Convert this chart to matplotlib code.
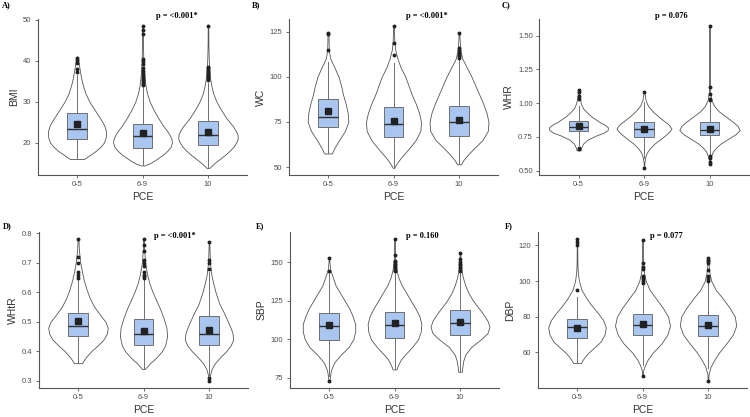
import matplotlib
matplotlib.use("Agg")
import matplotlib.pyplot as plt
import numpy as np

# ---- data ---------------------------------------------------------------
GROUPS = ["0-5", "6-9", "10"]
PANELS = ["A)", "B)", "C)", "D)", "E)", "F)"]
YLABELS = ["BMI", "WC", "WHR", "WHtR", "SBP", "DBP"]
PVALUES = ["p = <0.001*", "p = <0.001*", "p = 0.076", "p = <0.001*", "p = 0.160", "p = 0.077"]
YTICKS = [
    [20, 30, 40, 50],
    [50, 75, 100, 125],
    [0.50, 0.75, 1.00, 1.25, 1.50],
    [0.3, 0.4, 0.5, 0.6, 0.7, 0.8],
    [75, 100, 125, 150],
    [60, 80, 100, 120],
]
YTICKFMT = ["{:.0f}", "{:.0f}", "{:.2f}", "{:.1f}", "{:.0f}", "{:.0f}"]

# violin outlines: y values and half-width (density) per group
BMI_Y = [
    [16.0, 17, 18, 19, 20, 21, 22, 23, 24, 25, 26, 27, 28, 30, 32, 34, 36, 38, 40, 41],
    [14.4, 15, 16, 17, 18, 19, 20, 21, 22, 23, 24, 25, 26, 28, 30, 32, 34, 36, 38, 40, 44, 48.5],
    [13.8, 15, 16, 17, 18, 19, 20, 21, 22, 23, 24, 25, 26, 28, 30, 32, 34, 36, 38, 40, 44, 48.5],
]
BMI_D = [
    [0.11, 0.2, 0.29, 0.36, 0.41, 0.435, 0.445, 0.44, 0.42, 0.39, 0.35, 0.31, 0.27, 0.19, 0.13, 0.09, 0.06, 0.04, 0.02, 0.012],
    [0.03, 0.12, 0.22, 0.31, 0.38, 0.43, 0.45, 0.44, 0.41, 0.37, 0.32, 0.28, 0.24, 0.17, 0.11, 0.07, 0.045, 0.03, 0.02, 0.013, 0.007, 0.004],
    [0.02, 0.1, 0.18, 0.26, 0.33, 0.39, 0.43, 0.455, 0.45, 0.42, 0.38, 0.33, 0.28, 0.2, 0.13, 0.08, 0.05, 0.03, 0.02, 0.012, 0.006, 0.004],
]
WC_Y = [
    [57.5, 60, 65, 70, 75, 80, 85, 90, 95, 100, 105, 108, 110, 114, 118, 124],
    [49.5, 52, 55, 60, 65, 70, 75, 80, 85, 90, 95, 100, 105, 110, 115, 120, 128],
    [51.5, 54, 57, 60, 65, 70, 75, 80, 85, 90, 95, 100, 105, 110, 115, 120, 124],
]
WC_D = [
    [0.06, 0.09, 0.17, 0.26, 0.31, 0.3, 0.27, 0.23, 0.2, 0.16, 0.1, 0.06, 0.035, 0.015, 0.01, 0.008],
    [0.01, 0.05, 0.11, 0.23, 0.34, 0.41, 0.42, 0.39, 0.34, 0.28, 0.23, 0.18, 0.11, 0.06, 0.025, 0.012, 0.005],
    [0.03, 0.07, 0.14, 0.22, 0.36, 0.44, 0.45, 0.42, 0.37, 0.31, 0.25, 0.19, 0.12, 0.05, 0.02, 0.01, 0.006],
]
WHR_Y = [
    [0.65, 0.67, 0.70, 0.73, 0.76, 0.78, 0.80, 0.82, 0.84, 0.86, 0.88, 0.90, 0.93, 0.96, 1.00, 1.05, 1.10],
    [0.52, 0.56, 0.60, 0.63, 0.66, 0.70, 0.74, 0.78, 0.81, 0.84, 0.87, 0.90, 0.94, 0.98, 1.02, 1.08],
    [0.55, 0.58, 0.61, 0.64, 0.67, 0.70, 0.74, 0.77, 0.80, 0.83, 0.86, 0.90, 0.94, 0.98, 1.02, 1.07, 1.12, 1.3, 1.57],
]
WHR_D = [
    [0.03, 0.04, 0.07, 0.14, 0.27, 0.38, 0.445, 0.45, 0.4, 0.32, 0.26, 0.2, 0.13, 0.07, 0.035, 0.015, 0.008],
    [0.003, 0.006, 0.02, 0.04, 0.08, 0.16, 0.27, 0.37, 0.42, 0.38, 0.3, 0.22, 0.13, 0.06, 0.025, 0.006],
    [0.005, 0.01, 0.025, 0.05, 0.1, 0.17, 0.3, 0.4, 0.46, 0.43, 0.36, 0.25, 0.14, 0.07, 0.03, 0.012, 0.006, 0.003, 0.002],
]
WHTR_Y = [
    [0.36, 0.38, 0.40, 0.42, 0.44, 0.46, 0.48, 0.50, 0.52, 0.55, 0.58, 0.61, 0.64, 0.67, 0.70, 0.74, 0.78],
    [0.34, 0.36, 0.38, 0.40, 0.42, 0.45, 0.48, 0.51, 0.54, 0.57, 0.60, 0.63, 0.66, 0.70, 0.74, 0.78],
    [0.30, 0.32, 0.34, 0.36, 0.38, 0.40, 0.42, 0.44, 0.46, 0.48, 0.50, 0.53, 0.56, 0.60, 0.63, 0.66, 0.70, 0.77],
]
WHTR_D = [
    [0.06, 0.12, 0.2, 0.3, 0.39, 0.44, 0.455, 0.42, 0.35, 0.25, 0.18, 0.13, 0.09, 0.06, 0.035, 0.015, 0.006],
    [0.02, 0.1, 0.2, 0.28, 0.33, 0.36, 0.35, 0.31, 0.26, 0.2, 0.14, 0.09, 0.055, 0.025, 0.012, 0.004],
    [0.004, 0.015, 0.04, 0.09, 0.17, 0.26, 0.33, 0.37, 0.36, 0.33, 0.29, 0.23, 0.16, 0.1, 0.065, 0.035, 0.015, 0.004],
]
SBP_Y = [
    [73, 76, 80, 85, 90, 95, 100, 105, 110, 115, 120, 125, 130, 135, 140, 145, 150, 153],
    [80.5, 83, 87, 90, 95, 100, 105, 110, 115, 120, 125, 130, 135, 140, 145, 150, 155, 165],
    [79, 82, 86, 90, 95, 100, 104, 108, 112, 116, 120, 125, 130, 135, 140, 145, 150, 156],
]
SBP_D = [
    [0.01, 0.015, 0.03, 0.08, 0.18, 0.3, 0.37, 0.4, 0.4, 0.36, 0.31, 0.24, 0.17, 0.1, 0.06, 0.02, 0.007, 0.004],
    [0.03, 0.05, 0.1, 0.16, 0.27, 0.36, 0.4, 0.41, 0.38, 0.32, 0.25, 0.18, 0.11, 0.06, 0.03, 0.015, 0.007, 0.003],
    [0.03, 0.035, 0.05, 0.08, 0.17, 0.32, 0.42, 0.45, 0.42, 0.36, 0.29, 0.2, 0.13, 0.08, 0.045, 0.02, 0.01, 0.004],
]
DBP_Y = [
    [54, 56, 58, 60, 63, 66, 70, 74, 78, 82, 86, 90, 95, 100, 105, 110, 123.5],
    [47, 50, 53, 56, 60, 65, 70, 75, 80, 85, 90, 95, 100, 105, 110, 123],
    [44, 48, 52, 56, 60, 65, 70, 75, 80, 85, 90, 95, 100, 105, 110, 113],
]
DBP_D = [
    [0.06, 0.09, 0.13, 0.18, 0.27, 0.36, 0.42, 0.44, 0.4, 0.32, 0.23, 0.15, 0.07, 0.03, 0.012, 0.006, 0.003],
    [0.003, 0.01, 0.04, 0.08, 0.16, 0.29, 0.38, 0.42, 0.39, 0.31, 0.21, 0.11, 0.05, 0.02, 0.01, 0.003],
    [0.003, 0.01, 0.04, 0.1, 0.17, 0.28, 0.38, 0.43, 0.41, 0.33, 0.23, 0.12, 0.05, 0.02, 0.008, 0.003],
]

# box stats per group: (whisker low, q1, median, q3, whisker high, mean)
BMI_BOX = [(16.0, 20.9, 23.4, 27.2, 36.6, 24.6), (14.4, 18.7, 21.5, 24.6, 33.5, 22.3), (13.8, 19.3, 21.9, 25.4, 34.5, 22.7)]
WC_BOX = [(57.5, 72.0, 77.8, 87.9, 108.0, 81.0), (49.5, 66.5, 74.0, 83.0, 107.5, 75.2), (51.5, 67.0, 75.0, 84.0, 109.5, 76.0)]
WHR_BOX = [(0.69, 0.795, 0.82, 0.87, 0.98, 0.828), (0.59, 0.75, 0.81, 0.86, 1.01, 0.808), (0.62, 0.76, 0.80, 0.86, 1.01, 0.81)]
WHTR_BOX = [(0.36, 0.452, 0.485, 0.53, 0.64, 0.502), (0.34, 0.42, 0.46, 0.51, 0.64, 0.47), (0.32, 0.42, 0.46, 0.52, 0.67, 0.472)]
SBP_BOX = [(76, 99.5, 108.5, 117, 143, 109.5), (80.5, 101, 109.5, 118, 143.5, 110.5), (79, 103, 110.5, 119, 143, 111.5)]
DBP_BOX = [(54, 68, 74, 78.5, 91, 73.5), (53, 70, 75.5, 81.5, 98, 76), (51, 69, 75, 81, 99, 75.5)]

# outliers per group
BMI_OUT = [
    [37.2, 38.0, 39.4, 40.2, 40.8],
    [34.0, 34.4, 34.8, 35.2, 35.6, 36.0, 36.5, 37.0, 37.6, 38.3, 39.2, 40.0, 40.5, 46.6, 47.5, 48.5],
    [35.4, 35.8, 36.3, 36.8, 37.2, 37.7, 38.2, 38.6, 48.5],
]
WC_OUT = [[114.5, 123.5, 124.2], [112.0, 118.5, 128.0], [110.5, 111.2, 112.0, 113.0, 114.5, 116.0, 124.0]]
WHR_OUT = [[0.66, 0.67, 1.03, 1.05, 1.08, 1.10], [0.52, 1.08], [0.55, 0.565, 0.59, 0.61, 1.02, 1.03, 1.07, 1.12, 1.57]]
WHTR_OUT = [
    [0.65, 0.66, 0.67, 0.70, 0.72, 0.78],
    [0.65, 0.655, 0.66, 0.67, 0.69, 0.70, 0.71, 0.74, 0.76, 0.78],
    [0.30, 0.31, 0.68, 0.70, 0.71, 0.77],
]
SBP_OUT = [[73, 144, 153], [144, 145, 146, 147, 148, 149, 150, 151, 155, 165], [144, 145, 146, 147, 148, 149, 150, 152, 156]]
DBP_OUT = [[95, 120, 122, 123.5], [47, 99, 100, 101, 102, 103, 107, 108, 110, 123], [44, 100, 101, 102, 103, 106, 110, 111, 112, 113]]

VIOLIN_Y = [BMI_Y, WC_Y, WHR_Y, WHTR_Y, SBP_Y, DBP_Y]
VIOLIN_D = [BMI_D, WC_D, WHR_D, WHTR_D, SBP_D, DBP_D]
BOXES = [BMI_BOX, WC_BOX, WHR_BOX, WHTR_BOX, SBP_BOX, DBP_BOX]
OUTLIERS = [BMI_OUT, WC_OUT, WHR_OUT, WHTR_OUT, SBP_OUT, DBP_OUT]

# ---- layout (pixels of a 750x417 canvas) --------------------------------
W, H = 750, 417
UNIT = 65.5                     # px per category step
CAT1_X = [77, 328, 578.5, 78, 329, 577]
AX_BOTTOM = [175, 175, 175, 388, 388, 388]
AX_H = 156
LABEL_XY = [(2, 5), (252, 5), (502, 5), (3, 226), (256, 226), (505, 226)]
P_XY = [(177, 16), (427, 16), (671, 16), (175, 236), (422, 236), (666, 236)]

plt.rcParams["font.family"] = ["Liberation Sans", "DejaVu Sans"]
fig = plt.figure(figsize=(W / 100, H / 100), dpi=100)

GREY = "#4d4d4d"
for i in range(6):
    left = (CAT1_X[i] - 0.6 * UNIT) / W
    ax = fig.add_axes([left, 1 - AX_BOTTOM[i] / H, 3.2 * UNIT / W, AX_H / H])

    xs = np.arange(1, 4)
    for k in range(3):
        y = np.array(VIOLIN_Y[i][k])
        d = np.array(VIOLIN_D[i][k])
        ax.fill_betweenx(y, xs[k] - d, xs[k] + d, facecolor="white",
                         edgecolor="#555555", linewidth=0.6, zorder=1)

    stats = []
    for k in range(3):
        lo, q1, med, q3, hi, mean = BOXES[i][k]
        stats.append(dict(whislo=lo, q1=q1, med=med, q3=q3, whishi=hi,
                          mean=mean, fliers=OUTLIERS[i][k]))
    ax.bxp(stats, positions=xs, widths=0.3, patch_artist=True, showcaps=False,
           showmeans=True,
           boxprops=dict(facecolor="#a9c6f0", edgecolor="#6f6f6f", linewidth=0.7),
           whiskerprops=dict(color="#6f6f6f", linewidth=0.7),
           medianprops=dict(color="#2f2f2f", linewidth=1.0),
           meanprops=dict(marker="s", markersize=4, markerfacecolor="#222222",
                          markeredgecolor="#222222"),
           flierprops=dict(marker="o", markersize=1.8, markerfacecolor="#222222",
                           markeredgecolor="#222222"),
           zorder=2)

    allv = [v for g in VIOLIN_Y[i] for v in g] + [v for g in OUTLIERS[i] for v in g]
    lo_v, hi_v = min(allv), max(allv)
    pad = 0.05 * (hi_v - lo_v)
    ax.set_ylim(lo_v - pad, hi_v + pad)
    ax.set_xlim(0.4, 3.6)
    ax.set_xticks(xs)
    ax.set_xticklabels(GROUPS)
    ax.set_yticks(YTICKS[i])
    ax.set_yticklabels([YTICKFMT[i].format(t) for t in YTICKS[i]])

    for s in ["top", "right"]:
        ax.spines[s].set_visible(False)
    for s in ["left", "bottom"]:
        ax.spines[s].set_color("#555555")
        ax.spines[s].set_linewidth(0.8)
    ax.tick_params(axis="both", labelsize=5.5, colors="#555555", length=2.5,
                   width=0.6, pad=2, labelcolor=GREY)
    ax.set_xlabel("PCE", fontsize=7.5, color="#333333", labelpad=3)
    ax.set_ylabel(YLABELS[i], fontsize=7.5, color="#333333", labelpad=3)

    lx, ly = LABEL_XY[i]
    fig.text(lx / W, 1 - ly / H, PANELS[i], family="Liberation Serif",
             fontweight="bold", fontsize=6, ha="left", va="center")
    px, py = P_XY[i]
    fig.text(px / W, 1 - py / H, PVALUES[i], family="Liberation Serif",
             fontweight="bold", fontsize=6, ha="center", va="center")

fig.savefig("out.png", dpi=100)
